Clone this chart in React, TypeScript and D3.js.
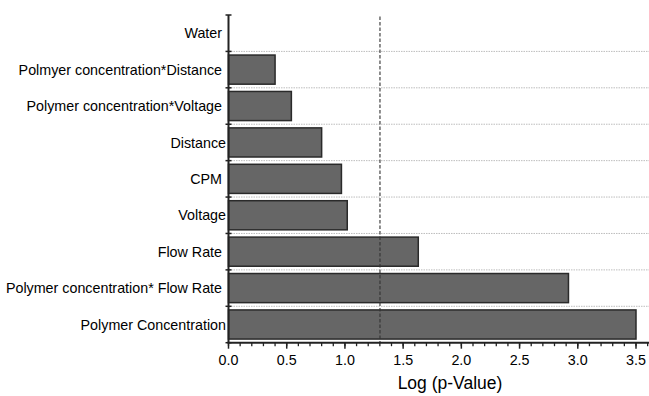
import React from "react";
import * as d3 from "d3";

// Factors, top to bottom
const factors = [
  "Water ",
  "Polmyer concentration*Distance ",
  "Polymer concentration*Voltage ",
  "Distance",
  "CPM ",
  "Voltage",
  "Flow Rate ",
  "Polymer concentration* Flow Rate ",
  "Polymer Concentration",
];
// Log (p-Value) per factor; Water has no bar
const logP: (number | null)[] = [null, 0.4, 0.54, 0.8, 0.97, 1.02, 1.63, 2.92, 3.5];
const majorTicks = [0, 0.5, 1, 1.5, 2, 2.5, 3, 3.5];
const threshold = 1.301; // -log10(0.05)
const xTitle = "Log (p-Value)";

const W = 649;
const H = 396;
const FONT = "'Liberation Sans', Arial, Helvetica, sans-serif";

export default function App() {
  const x = d3.scaleLinear().domain([0, 3.5]).range([228.5, 636]);
  const y = d3
    .scaleBand<string>()
    .domain(factors)
    .range([15, 342.7])
    .paddingInner(0.2)
    .paddingOuter(0.1);
  const step = y.step();
  const top = 15;
  const bottom = 342.7;
  const x0 = x(0);
  const boundaries = d3.range(factors.length + 1).map((i) => top + i * step);
  const minorTicks = d3.range(0, 37).map((i) => i / 10).filter((v) => x(v) <= W);

  return (
    <div style={{ position: "fixed", left: 0, top: 0, width: W, height: H, background: "#fff" }}>
      <svg width={W} height={H} style={{ display: "block", fontFamily: FONT }}>
        {/* dotted separators between categories */}
        {boundaries.slice(1, -1).map((b, i) => (
          <line
            key={"g" + i}
            x1={x0}
            x2={W}
            y1={b}
            y2={b}
            stroke="#bdbdbd"
            strokeWidth={1}
            strokeDasharray="1.5,1"
          />
        ))}
        {/* bars */}
        {factors.map((f, i) =>
          logP[i] == null ? null : (
            <rect
              key={"b" + i}
              x={x0}
              y={y(f)!}
              width={x(logP[i] as number) - x0}
              height={y.bandwidth()}
              fill="#666666"
              stroke="#2a2a2a"
              strokeWidth={1.5}
            />
          )
        )}
        {/* significance threshold */}
        <line
          x1={x(threshold)}
          x2={x(threshold)}
          y1={16.5}
          y2={bottom}
          stroke="#333"
          strokeWidth={1.1}
          strokeDasharray="3.5,2"
        />
        {/* y axis */}
        <line x1={x0} x2={x0} y1={top} y2={bottom} stroke="#222" strokeWidth={2} />
        {boundaries.map((b, i) => (
          <line key={"yt" + i} x1={x0 - 3} x2={x0 + 3} y1={b} y2={b} stroke="#222" strokeWidth={1.5} />
        ))}
        {factors.map((f, i) => (
          <text
            key={"yl" + i}
            x={226}
            y={y(f)! + y.bandwidth() / 2}
            dy="0.36em"
            textAnchor="end"
            fontSize={14.3}
            fill="#000"
            style={{ whiteSpace: "pre" }}
          >
            {f}
          </text>
        ))}
        {/* x axis */}
        <line x1={x0 - 1} x2={W} y1={bottom} y2={bottom} stroke="#222" strokeWidth={2} />
        {minorTicks.map((v, i) => (
          <line key={"mt" + i} x1={x(v)} x2={x(v)} y1={bottom} y2={bottom + 3.5} stroke="#222" strokeWidth={1.3} />
        ))}
        {majorTicks.map((v, i) => (
          <g key={"xt" + i}>
            <line x1={x(v)} x2={x(v)} y1={bottom} y2={bottom + 6} stroke="#222" strokeWidth={1.5} />
            <text x={x(v)} y={365} textAnchor="middle" fontSize={14.3} fill="#000">
              {d3.format(".1f")(v)}
            </text>
          </g>
        ))}
        <text x={450} y={389} textAnchor="middle" fontSize={17.5} fill="#000">
          {xTitle}
        </text>
      </svg>
    </div>
  );
}
